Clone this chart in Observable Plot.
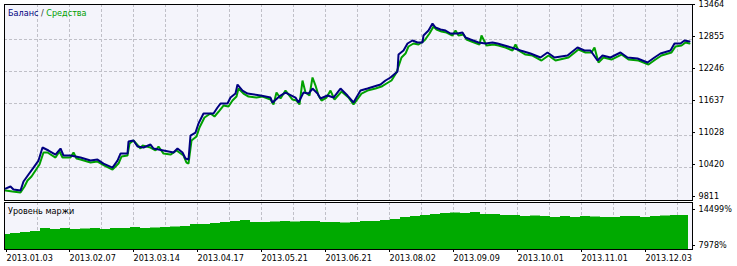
<!DOCTYPE html>
<html><head><meta charset="utf-8">
<script src="https://cdn.jsdelivr.net/npm/d3@7"></script>
<script src="https://cdn.jsdelivr.net/npm/@observablehq/plot@0.6"></script>
<style>
html,body{margin:0;padding:0;background:#fff;}
#chart{position:relative;width:737px;height:266px;overflow:hidden;font-family:"DejaVu Sans Condensed","DejaVu Sans",sans-serif;}
#topPanel,#bottomPanel{position:absolute;left:0;}
#topPanel{top:0}
#bottomPanel{top:202px}
.lbl{position:absolute;font-size:9px;line-height:10px;white-space:nowrap;}
</style></head>
<body><div id="chart"><div id="topPanel"></div><div id="bottomPanel"></div>
<div class="lbl" style="left:8px;top:8px"><span style="color:#000080">Баланс</span> <span style="color:#333">/</span> <span style="color:#00A000">Средства</span></div>
<div class="lbl" style="left:8px;top:206px;color:#000">Уровень маржи</div>
</div>
<script>
// deal index along the test, balance / equity values
const balanceDeals = [
0,5,8,15,18,23,28,33,37,43,
50,55,58,65,75,85,92,98,107,112,
115,122,123,128,132,138,145,148,158,168,
172,177,180,183,185,190,193,198,208,212,
215,222,225,230,232,237,242,255,265,267,
275,280,290,293,298,303,307,312,315,322,
328,335,342,348,355,362,375,380,385,392,
393,398,402,407,412,417,418,423,427,430,
435,440,445,452,457,460,465,473,480,487,
492,499,509,515,525,535,542,549,562,572,
579,585,592,597,605,615,622,632,642,649,
655,665,669,675,679,684];
const balance = [
10019,10058,10000,9981,10153,10286,10419,10552,10800,10743,
10666,10781,10648,10648,10609,10552,10571,10495,10419,10552,
10685,10685,10914,10933,10819,10800,10857,10781,10743,10705,
10781,10705,10590,10571,11028,11085,11256,11447,11447,11561,
11637,11637,11751,11827,11998,11884,11827,11789,11751,11656,
11789,11846,11751,11656,11846,11827,11922,11827,11732,11789,
11751,11922,11789,11656,11884,11922,11998,12075,12132,12246,
12570,12646,12779,12836,12798,12798,12931,13026,13160,13083,
13045,13026,12969,12969,12988,12893,12855,12798,12779,12798,
12779,12741,12684,12646,12589,12513,12608,12513,12551,12703,
12646,12646,12455,12551,12513,12608,12513,12493,12417,12513,
12589,12646,12779,12779,12836,12817];
const equityDeals = [
0,7,15,19,22,26,30,34,38,42,
50,54,57,65,68,71,75,85,92,99,
107,113,116,122,124,128,135,137,145,150,
153,158,165,171,178,181,183,186,191,194,
199,205,209,214,218,223,227,231,233,238,
243,251,257,265,268,271,275,280,287,291,
294,297,300,304,307,310,313,316,321,325,
329,336,343,348,356,362,370,376,381,386,
391,393,396,400,403,408,413,419,424,428,
431,436,441,447,450,453,458,461,466,474,
476,481,488,493,500,507,510,513,520,527,
536,543,550,563,573,580,586,589,593,598,
606,616,623,633,643,650,656,666,670,676,
680,684];
const equity = [
9981,9962,9943,10058,10172,10248,10362,10476,10705,10705,
10609,10724,10609,10609,10705,10590,10571,10514,10533,10457,
10381,10495,10628,10647,10876,10933,10781,10838,10800,10743,
10819,10685,10666,10743,10647,10514,10495,10933,11009,11180,
11371,11447,11390,11504,11599,11580,11694,11770,11922,11827,
11770,11751,11770,11713,11618,11846,11732,11884,11713,11694,
11618,12075,11846,11789,12132,11979,11789,11694,11751,11884,
11713,11865,11751,11618,11827,11884,11922,11960,12018,12075,
12227,12341,12512,12588,12722,12779,12760,12836,12969,13102,
13045,13007,12988,12931,13026,12931,12950,12855,12817,12760,
12931,12741,12760,12741,12703,12646,12760,12646,12569,12550,
12455,12550,12455,12512,12665,12607,12607,12703,12417,12512,
12474,12569,12474,12455,12379,12474,12550,12607,12722,12741,
12798,12779];
const marginDeals = [
0,5,15,25,35,45,55,65,75,85,
95,105,115,125,135,145,155,165,175,185,
195,205,215,225,235,245,255,265,275,285,
295,305,315,325,335,345,355,365,375,385,
395,405,415,425,435,445,455,465,475,485,
495,505,515,525,535,545,555,565,575,585,
595,605,615,625,635,645,655,665,675,683];
const marginLevel = [
10513,10695,10876,11057,11600,11419,11600,11419,11510,11600,
11419,11600,11600,11781,11600,11690,11781,11871,11962,12324,
12324,12506,12687,12868,13049,12687,12687,12777,12868,12777,
12868,12868,12687,12687,12596,12687,12868,12868,13049,13230,
13592,13773,13954,14135,14317,14407,14317,14498,14135,14135,
13954,13954,13773,13864,13773,13592,13773,13592,13773,13683,
13592,13592,13773,13773,13592,13773,13864,13954,13954,13954];
const dateTicks = [1,64,128,192,256,320,384,448,512,576,640];
const dateLabels = ["2013.01.03","2013.02.07","2013.03.14","2013.04.17","2013.05.21","2013.06.21","2013.08.02","2013.09.09","2013.10.01","2013.11.01","2013.12.03"];
const gridDeals = d3.range(32, 687, 32);
const balanceTicks = [9811,10420,11028,11637,12246,12855,13464];
const marginTicks = [7978,14499];

const navy = "#000080", green = "#00A000", fillGreen = "#00AA00";
const bg = "#F4F4FB", gridC = "#C0C0C8";
const font = '"DejaVu Sans Condensed","DejaVu Sans",sans-serif';

const balRows = balanceDeals.map((d,i)=>({d, v: balance[i]}));
const eqRows = equityDeals.map((d,i)=>({d, v: equity[i]}));
const mRows = marginDeals.map((d,i)=>({d, v: marginLevel[i]}));

const xDomain = [-1, 687];

const topChart = Plot.plot({
  width: 737, height: 202,
  marginLeft: 4, marginRight: 45, marginTop: 4, marginBottom: 2,
  style: {fontFamily: font, fontSize: "9px", background: "transparent", overflow: "visible", color: "#000"},
  x: {domain: xDomain, axis: null},
  y: {domain: [9792, 13521], axis: null},
  marks: [
    Plot.frame({fill: bg}),
    Plot.ruleX(gridDeals, {stroke: gridC, strokeDasharray: "3,2"}),
    Plot.ruleY(balanceTicks.slice(1, -1), {stroke: gridC, strokeDasharray: "3,2"}),
    Plot.line(eqRows, {x: "d", y: "v", stroke: green, strokeWidth: 2, strokeLinejoin: "miter"}),
    Plot.line(balRows, {x: "d", y: "v", stroke: navy, strokeWidth: 2, strokeLinejoin: "miter"}),
    Plot.frame({stroke: "#000"}),
    Plot.axisY(balanceTicks, {anchor: "right", label: null, tickSize: 2, tickPadding: 4, dy: -3, fontSize: 9, tickFormat: d => String(d)})
  ]
});
document.getElementById("topPanel").appendChild(topChart);

const bottomChart = Plot.plot({
  width: 737, height: 64,
  marginLeft: 4, marginRight: 45, marginTop: 0, marginBottom: 17,
  style: {fontFamily: font, fontSize: "9px", background: "transparent", overflow: "visible", color: "#000"},
  x: {domain: xDomain, axis: null},
  y: {domain: [7797, 16309], axis: null},
  marks: [
    Plot.frame({fill: bg}),
    Plot.ruleX(gridDeals, {stroke: gridC, strokeDasharray: "3,2"}),
    Plot.areaY(mRows, {x: "d", y1: 7797, y2: "v", curve: "step-after", fill: fillGreen}),
    Plot.frame({stroke: "#000"}),
    Plot.axisY(marginTicks, {anchor: "right", label: null, tickSize: 2, tickPadding: 4, dy: -3, fontSize: 9, tickFormat: d => d + "%"}),
    Plot.axisX(dateTicks, {anchor: "bottom", label: null, tickSize: 3, tickPadding: 2, textAnchor: "start", fontSize: 9,
      tickFormat: d => dateLabels[dateTicks.indexOf(d)]})
  ]
});
document.getElementById("bottomPanel").appendChild(bottomChart);
</script>
</body></html>
